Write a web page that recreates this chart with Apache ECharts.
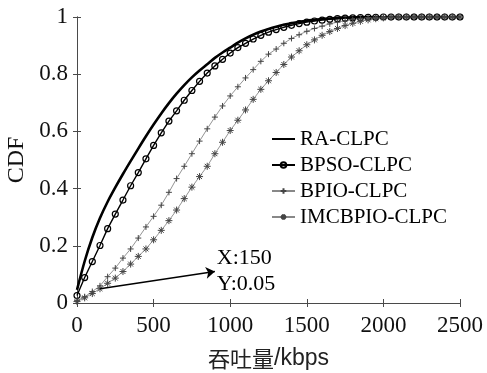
<!DOCTYPE html>
<html>
<head>
<meta charset="utf-8">
<script src="https://cdn.jsdelivr.net/npm/echarts@6/dist/echarts.min.js"></script>
<style>
  html, body { margin: 0; padding: 0; background: #fff; }
  #chart { width: 487px; height: 373px; }
</style>
</head>
<body>
<div id="chart"></div>
<script>
// throughput grid (kbps), one point every 50
const throughput = [
  0, 50, 100, 150, 200, 250, 300, 350, 400, 450,
  500, 550, 600, 650, 700, 750, 800, 850, 900, 950,
  1000, 1050, 1100, 1150, 1200, 1250, 1300, 1350, 1400, 1450,
  1500, 1550, 1600, 1650, 1700, 1750, 1800, 1850, 1900, 1950,
  2000, 2050, 2100, 2150, 2200, 2250, 2300, 2350, 2400, 2450, 2500
];

const raClpc = [
  0.046, 0.146, 0.229, 0.297, 0.354, 0.404, 0.451, 0.496, 0.540, 0.583,
  0.624, 0.663, 0.699, 0.732, 0.762, 0.789, 0.813, 0.835, 0.857, 0.876,
  0.893, 0.910, 0.925, 0.938, 0.949, 0.958, 0.966, 0.973, 0.978, 0.983,
  0.987, 0.990, 0.993, 0.995, 0.997, 0.998, 0.999, 1, 1, 1,
  1, 1, 1, 1, 1, 1, 1, 1, 1, 1, 1
];

const bpsoClpc = [
  0.026, 0.089, 0.145, 0.201, 0.260, 0.311, 0.360, 0.410, 0.456, 0.504,
  0.551, 0.595, 0.636, 0.672, 0.709, 0.743, 0.775, 0.804, 0.829, 0.852,
  0.874, 0.893, 0.908, 0.923, 0.936, 0.947, 0.956, 0.964, 0.971, 0.977,
  0.982, 0.986, 0.989, 0.992, 0.994, 0.996, 0.997, 0.998, 0.999, 0.999,
  1, 1, 1, 1, 1, 1, 1, 1, 1, 1, 1
];

const bpioClpc = [
  0.008, 0.022, 0.040, 0.060, 0.092, 0.122, 0.157, 0.189, 0.227, 0.266,
  0.303, 0.342, 0.387, 0.435, 0.478, 0.522, 0.566, 0.609, 0.650, 0.689,
  0.724, 0.756, 0.787, 0.816, 0.845, 0.870, 0.888, 0.908, 0.925, 0.938,
  0.950, 0.960, 0.968, 0.976, 0.982, 0.987, 0.991, 0.995, 0.997, 0.999,
  1, 1, 1, 1, 1, 1, 1, 1, 1, 1, 1
];

const imcbpioClpc = [
  0.005, 0.018, 0.033, 0.050, 0.069, 0.087, 0.110, 0.136, 0.163, 0.189,
  0.221, 0.254, 0.288, 0.325, 0.365, 0.405, 0.442, 0.478, 0.522, 0.562,
  0.603, 0.639, 0.675, 0.712, 0.747, 0.777, 0.806, 0.834, 0.860, 0.882,
  0.903, 0.920, 0.936, 0.949, 0.960, 0.970, 0.978, 0.985, 0.990, 0.994,
  0.997, 0.999, 1, 1, 1, 1, 1, 1, 1, 1, 1
];

const seriesNames = ['RA-CLPC', 'BPSO-CLPC', 'BPIO-CLPC', 'IMCBPIO-CLPC'];

// data tip annotation: arrow from the picked point out to the label
const tipPoint = [150, 0.05];
const tipLabelAt = [900, 0.11];
const tipText = ['X:150', 'Y:0.05'];

const serif = '"Liberation Serif", "Times New Roman", serif';
const axisColor = '#4a4a4a';
const clear = 'rgba(0,0,0,0)';

const pairs = ys => throughput.map((x, i) => [x, ys[i]]);

const chart = echarts.init(document.getElementById('chart'), null, { renderer: 'canvas' });

const boxAxis = {
  axisLine: { show: true, lineStyle: { color: axisColor, width: 1 } },
  axisTick: { show: true, inside: true, length: 4, lineStyle: { color: axisColor } },
  splitLine: { show: false }
};

const option = {
  animation: false,
  backgroundColor: '#fff',
  grid: { left: 77, right: 27, top: 17, bottom: 70, containLabel: false, outerBoundsMode: 'none' },
  legend: {
    data: seriesNames,
    orient: 'vertical',
    left: 266,
    top: 123,
    itemWidth: 23,
    itemHeight: 7,
    itemGap: 4,
    textStyle: { fontFamily: serif, fontSize: 21, color: '#000', lineHeight: 22 }
  },
  xAxis: [
    Object.assign({
      type: 'value', min: 0, max: 2500, interval: 500, position: 'bottom',
      name: '{cjk|吞吐量}{lat|/kbps}',
      nameLocation: 'middle',
      nameGap: 44,
      nameTextStyle: {
        rich: {
          cjk: { fontFamily: '"Noto Sans CJK SC", sans-serif', fontSize: 22, color: '#222' },
          lat: { fontFamily: '"Liberation Sans", Arial, sans-serif', fontSize: 23, color: '#222' }
        }
      },
      axisLabel: { fontFamily: serif, fontSize: 23, color: '#111', margin: 11, formatter: v => String(v) }
    }, boxAxis),
    Object.assign({
      type: 'value', min: 0, max: 2500, interval: 500, position: 'top',
      axisLabel: { show: false }
    }, boxAxis)
  ],
  yAxis: [
    Object.assign({
      type: 'value', min: 0, max: 1, interval: 0.2, position: 'left',
      name: 'CDF',
      nameLocation: 'middle',
      nameGap: 44,
      nameTextStyle: { fontFamily: serif, fontSize: 24, color: '#111' },
      axisLabel: { fontFamily: serif, fontSize: 23, color: '#111', margin: 9, formatter: v => String(v) }
    }, boxAxis),
    Object.assign({
      type: 'value', min: 0, max: 1, interval: 0.2, position: 'right',
      axisLabel: { show: false }
    }, boxAxis)
  ],
  series: [
    {
      name: seriesNames[0],
      type: 'line',
      data: pairs(raClpc),
      symbol: 'none',
      smooth: 0.3,
      lineStyle: { color: '#000', width: 2.6 },
      // transparent so the legend shows just the line
      itemStyle: { color: clear, borderColor: clear, borderWidth: 0 }
    },
    {
      name: seriesNames[1],
      type: 'line',
      data: pairs(bpsoClpc),
      symbol: 'circle',
      symbolSize: 6,
      lineStyle: { color: '#000', width: 1.4 },
      itemStyle: { color: clear, borderColor: '#000', borderWidth: 1.2 }
    },
    {
      name: seriesNames[2],
      type: 'line',
      data: pairs(bpioClpc),
      symbol: 'path://M0,-1L0,1M-1,0L1,0',
      symbolSize: 6,
      lineStyle: { color: '#888', width: 0.9 },
      itemStyle: { color: clear, borderColor: '#444', borderWidth: 1 }
    },
    {
      name: seriesNames[3],
      type: 'line',
      data: pairs(imcbpioClpc),
      symbol: 'path://M0,-1L0,1M-1,0L1,0M-0.7,-0.7L0.7,0.7M-0.7,0.7L0.7,-0.7',
      symbolSize: 7,
      lineStyle: { color: '#888', width: 0.9 },
      itemStyle: { color: clear, borderColor: '#444', borderWidth: 1 },
      markLine: {
        silent: true,
        animation: false,
        symbol: ['none', 'arrow'],
        symbolSize: 9,
        lineStyle: { color: '#000', width: 1.5, type: 'solid' },
        label: {
          show: true,
          position: 'end',
          distance: 2,
          formatter: tipText.join('\n'),
          fontFamily: serif,
          fontSize: 22,
          lineHeight: 26,
          color: '#000'
        },
        emphasis: { disabled: true },
        data: [[{ coord: tipPoint }, { coord: tipLabelAt }]]
      }
    }
  ]
};

chart.setOption(option);
</script>
</body>
</html>
